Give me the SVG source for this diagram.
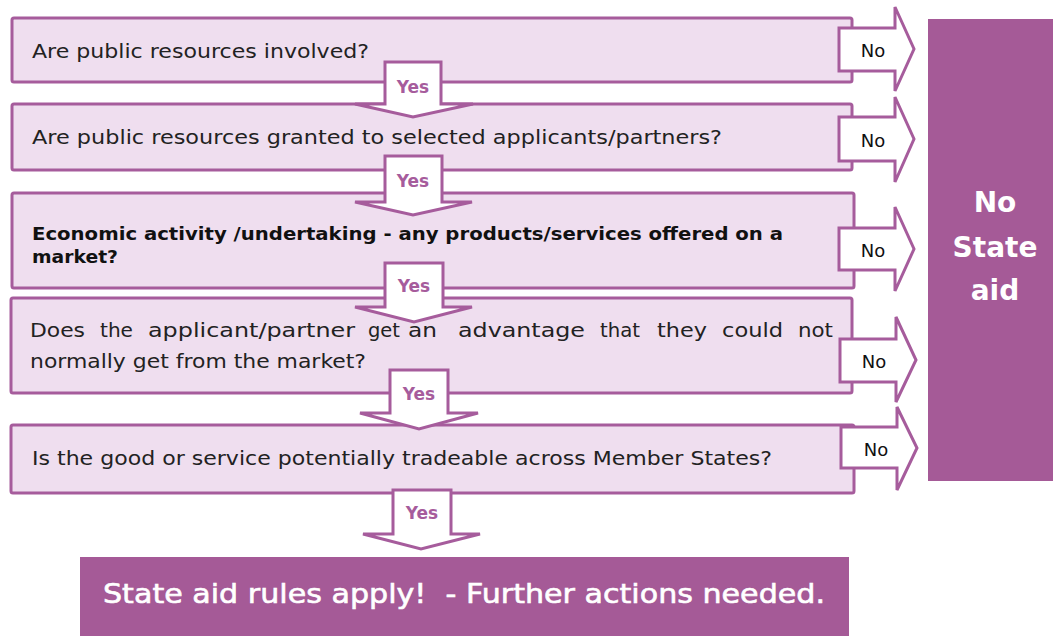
<svg xmlns="http://www.w3.org/2000/svg" width="1053" height="636" viewBox="0 0 1053 636">
<style>
.q{fill:#EFDEEF;stroke:#A65C9C;stroke-width:3}
.ar{fill:#FFFFFF;stroke:#A65C9C;stroke-width:3;stroke-linejoin:miter}
.dark{fill:#A55A97}
.t{font-family:"DejaVu Sans","Liberation Sans",sans-serif;font-size:19px;fill:#222222}
.tb{font-family:"DejaVu Sans","Liberation Sans",sans-serif;font-size:18px;font-weight:bold;fill:#111111}
.no{font-family:"DejaVu Sans","Liberation Sans",sans-serif;font-size:18px;fill:#111111;text-anchor:middle}
.yes{font-family:"DejaVu Sans","Liberation Sans",sans-serif;font-size:17px;font-weight:bold;fill:#A65C9C;text-anchor:middle}
.big{font-family:"DejaVu Sans","Liberation Sans",sans-serif;font-size:28px;font-weight:bold;fill:#FFFFFF;text-anchor:middle}
.fin{font-family:"DejaVu Sans","Liberation Sans",sans-serif;font-size:27px;fill:#FFFFFF;stroke:#FFFFFF;stroke-width:0.6}
</style>
<rect width="1053" height="636" fill="#FFFFFF"/>
<g id="q1"><rect class="q" x="12" y="18" width="840" height="64" rx="2"/>
<text class="t" x="32" y="58" textLength="337" lengthAdjust="spacingAndGlyphs">Are public resources involved?</text></g>
<g id="q2"><rect class="q" x="12" y="104" width="840" height="66" rx="2"/>
<text class="t" x="32" y="144" textLength="690" lengthAdjust="spacingAndGlyphs">Are public resources granted to selected applicants/partners?</text></g>
<g id="q3"><rect class="q" x="12" y="193" width="842" height="95" rx="2"/>
<text class="tb" x="32" y="240" textLength="751" lengthAdjust="spacingAndGlyphs">Economic activity /undertaking - any products/services offered on a</text>
<text class="tb" x="32" y="263" textLength="86" lengthAdjust="spacingAndGlyphs">market?</text></g>
<g id="q4"><rect class="q" x="11" y="298" width="841" height="95" rx="2"/>
<text class="t" x="30" y="337" textLength="55" lengthAdjust="spacingAndGlyphs">Does</text>
<text class="t" x="100" y="337" textLength="33" lengthAdjust="spacingAndGlyphs">the</text>
<text class="t" x="148" y="337" textLength="207" lengthAdjust="spacingAndGlyphs">applicant/partner</text>
<text class="t" x="368" y="337" textLength="32" lengthAdjust="spacingAndGlyphs">get</text>
<text class="t" x="408" y="337" textLength="29" lengthAdjust="spacingAndGlyphs">an</text>
<text class="t" x="458" y="337" textLength="127" lengthAdjust="spacingAndGlyphs">advantage</text>
<text class="t" x="600" y="337" textLength="40" lengthAdjust="spacingAndGlyphs">that</text>
<text class="t" x="657" y="337" textLength="50" lengthAdjust="spacingAndGlyphs">they</text>
<text class="t" x="722" y="337" textLength="61" lengthAdjust="spacingAndGlyphs">could</text>
<text class="t" x="798" y="337" textLength="35" lengthAdjust="spacingAndGlyphs">not</text>
<text class="t" x="30" y="368" textLength="336" lengthAdjust="spacingAndGlyphs">normally get from the market?</text></g>
<g id="q5"><rect class="q" x="11" y="425" width="843" height="68" rx="2"/>
<text class="t" x="32" y="465" textLength="740" lengthAdjust="spacingAndGlyphs">Is the good or service potentially tradeable across Member States?</text></g>
<g id="nostateaid"><rect class="dark" x="928" y="19" width="125" height="462"/>
<text class="big" x="995" y="212">No</text>
<text class="big" x="995" y="257">State</text>
<text class="big" x="995" y="300">aid</text></g>
<g id="result"><rect class="dark" x="80" y="557" width="769" height="79"/>
<text class="fin" x="103" y="603" textLength="722" lengthAdjust="spacingAndGlyphs" xml:space="preserve">State aid rules apply!  - Further actions needed.</text></g>
<g id="connectors">
<path class="ar" d="M839,28 H895 V7 L914,49 L895,91 V71 H839 Z"/>
<path class="ar" d="M839,117 H895 V97 L914,139 L895,182 V161 H839 Z"/>
<path class="ar" d="M839,228 H895 V207 L914,249 L895,291 V270 H839 Z"/>
<path class="ar" d="M840,339 H896 V317 L916,360 L896,402 V382 H840 Z"/>
<path class="ar" d="M841,427 H897 V407 L917,448 L897,490 V468 H841 Z"/>
<path class="ar" d="M385,62 H441 V104 H473 L413,117 L355,104 H385 Z"/>
<path class="ar" d="M385,156 H442 V202 H472 L413,215 L355,202 H385 Z"/>
<path class="ar" d="M385,263 H443 V307 H472 L414,322 L355,307 H385 Z"/>
<path class="ar" d="M390,370 H448 V413 H478 L419,429 L360,413 H390 Z"/>
<path class="ar" d="M393,490 H451 V534 H480 L421,549 L363,534 H393 Z"/>
<text class="no" x="873" y="57">No</text>
<text class="no" x="873" y="147">No</text>
<text class="no" x="873" y="257">No</text>
<text class="no" x="874" y="368">No</text>
<text class="no" x="876" y="456">No</text>
<text class="yes" x="413" y="93">Yes</text>
<text class="yes" x="413" y="187">Yes</text>
<text class="yes" x="414" y="292">Yes</text>
<text class="yes" x="419" y="400">Yes</text>
<text class="yes" x="422" y="519">Yes</text>
</g>
</svg>
